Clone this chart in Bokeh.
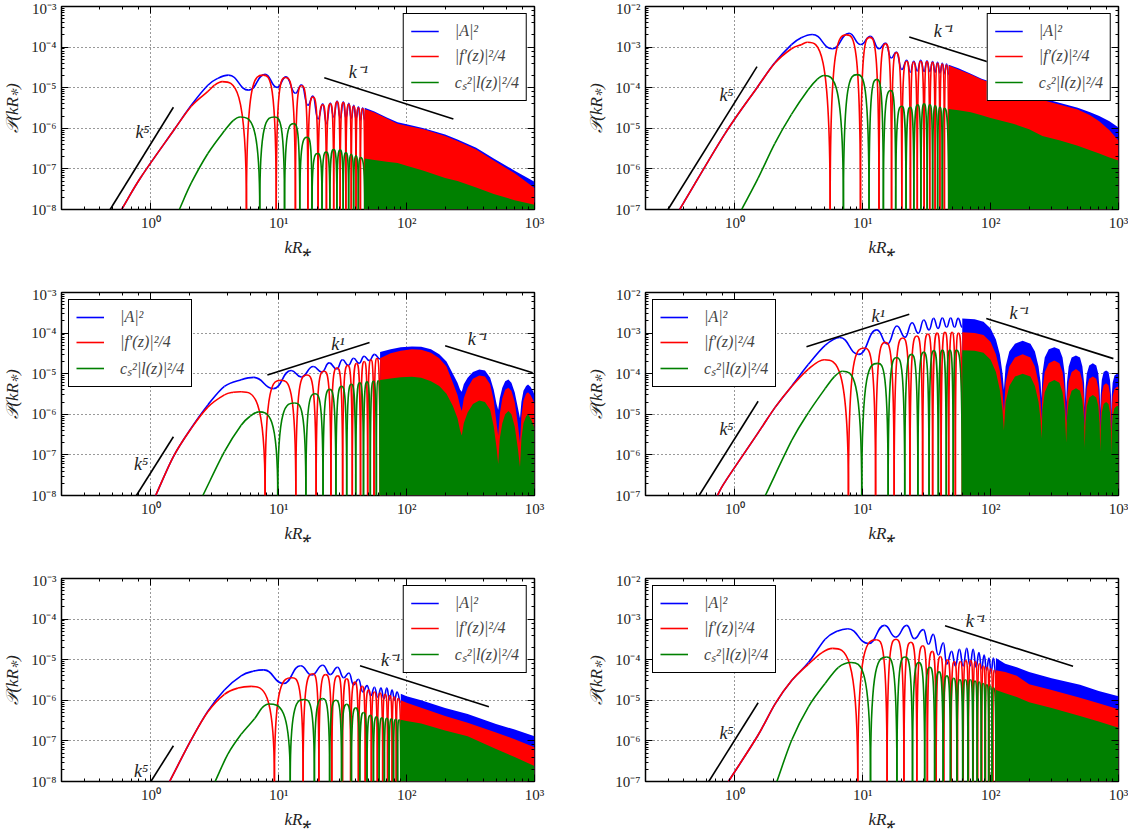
import math
from bokeh.plotting import figure
from bokeh.models import (LogAxis, CustomJSTickFormatter, Legend, LegendItem, Range1d)
from bokeh.layouts import column, row
from bokeh.embed import file_html
from bokeh.resources import INLINE
from bokeh.core.properties import value

# ---------------- data ----------------
# RISE: points of the first rising branch up to the first peak
# OSC: following extrema; a value of 0 means the curve touches zero
# BAND: upper envelope of the densely oscillating part (filled down to the axis)
# ===== panel 1 =====
P1_YR = [1e-8, 1e-3]
P1_BLUE_RISE_K = [0.59, 0.84, 1.5, 2.07, 2.79, 3.34, 4.04]
P1_BLUE_RISE_V = [1e-8, 6.4e-8, 8.7e-7, 3.7e-6, 1.15e-5, 1.7e-5, 2.04e-5]
P1_BLUE_OSC_K = [5.83, 7.82, 9.70, 11.4, 13.5, 15.1, 16.9, 18.5, 20.3, 22.1, 23.6, 25.3, 26.9, 28.6, 30.2, 32.0, 33.5, 35.3, 36.9, 38.6, 40.2, 42.0, 43.5, 45.3, 47]
P1_BLUE_OSC_V = [8.7e-6, 2.14e-5, 1.02e-5, 1.85e-5, 7.3e-6, 1.18e-5, 3.7e-6, 6.2e-6, 1.7e-6, 4.0e-6, 1.3e-6, 4.2e-6, 1.9e-6, 4.7e-6, 1.8e-6, 4.5e-6, 1.8e-6, 4.1e-6, 1.75e-6, 3.7e-6, 1.7e-6, 3.4e-6, 1.6e-6, 3.2e-6, 1.6e-6]
P1_RED_RISE_K = [0.59, 0.84, 1.5, 2.07, 2.79, 3.14, 3.61]
P1_RED_RISE_V = [1e-8, 6.4e-8, 8.7e-7, 3.5e-6, 8.1e-6, 1.15e-5, 1.41e-5]
P1_RED_OSC_K = [5.59, 7.57, 9.56, 11.3, 13.5, 15.1, 16.9, 18.5, 20.3, 22.1, 23.6, 25.3, 26.9, 28.6, 30.2, 32.0, 33.5, 35.3, 36.9, 38.6, 40.2, 42.0, 43.5, 45.3, 47]
P1_RED_OSC_V = [0, 2.04e-5, 0, 1.78e-5, 0, 1.12e-5, 0, 5.9e-6, 0, 3.8e-6, 0, 4.0e-6, 0, 4.5e-6, 0, 4.3e-6, 0, 3.9e-6, 0, 3.5e-6, 0, 3.2e-6, 0, 3.05e-6, 0]
P1_GREEN_RISE_K = [1.67, 2.07, 2.79, 3.76, 4.4, 4.99]
P1_GREEN_RISE_V = [1e-8, 4.5e-8, 2.4e-7, 8.7e-7, 1.55e-6, 1.9e-6]
P1_GREEN_OSC_K = [7.1, 9.25, 11.1, 13.1, 14.6, 16.7, 18.2, 20.2, 21.8, 23.5, 25.1, 26.9, 28.5, 30.2, 31.9, 33.5, 35.2, 36.9, 38.5, 40.2, 41.9, 43.5, 47]
P1_GREEN_OSC_V = [0, 1.9e-6, 0, 1.3e-6, 0, 6.0e-7, 0, 2.4e-7, 0, 2.6e-7, 0, 3.0e-7, 0, 2.9e-7, 0, 2.5e-7, 0, 2.3e-7, 0, 2.1e-7, 0, 1.9e-7, 0]
P1_BAND_K = [47, 56, 70, 85, 100, 136, 200, 250, 350, 480, 700, 1000]
P1_BLUE_BAND = [3.2e-6, 2.6e-6, 1.85e-6, 1.4e-6, 1.25e-6, 1.0e-6, 7.0e-7, 5.3e-7, 3.3e-7, 1.8e-7, 9e-8, 4.8e-8]
P1_RED_BAND = [3.0e-6, 2.45e-6, 1.75e-6, 1.3e-6, 1.15e-6, 9.5e-7, 6.5e-7, 4.9e-7, 3.0e-7, 1.6e-7, 7.8e-8, 3.4e-8]
P1_GREEN_BAND = [1.8e-7, 1.65e-7, 1.5e-7, 1.4e-7, 1.2e-7, 9e-8, 6e-8, 5e-8, 3.5e-8, 2.4e-8, 1.7e-8, 1.3e-8]
P1_GUIDE_K = [[0.48, 1.5], [22.7, 232]]
P1_GUIDE_V = [[1e-8, 3.3e-6], [1.75e-5, 1.7e-6]]
P1_LABEL_K = [0.86, 42]
P1_LABEL_V = [8e-7, 2.4e-5]
P1_LABEL_T = ["k⁵", "k⁻¹"]

# ===== panel 2 =====
P2_YR = [1e-7, 1e-2]
P2_BLUE_RISE_K = [0.37, 0.835, 1.49, 2.05, 2.77, 3.3, 4.02]
P2_BLUE_RISE_V = [1e-7, 7.3e-6, 1.0e-4, 4.1e-4, 1.15e-3, 1.7e-3, 2.05e-3]
P2_BLUE_OSC_K = [5.8, 7.82, 9.64, 11.5, 13.4, 15.1, 16.7, 18.3, 20.2, 22.1, 23.6, 25.0, 26.7, 28.4, 30.2, 31.8, 33.4, 35.2, 36.8, 38.5, 40.1, 41.9, 43.5, 45.2, 47]
P2_BLUE_OSC_V = [9.1e-4, 2.2e-3, 1.16e-3, 1.85e-3, 9.1e-4, 1.25e-3, 5.4e-4, 7.6e-4, 2.8e-4, 4.7e-4, 2.4e-4, 4.5e-4, 2.6e-4, 4.7e-4, 2.5e-4, 4.6e-4, 2.5e-4, 4.4e-4, 2.4e-4, 4.2e-4, 2.3e-4, 4.0e-4, 2.2e-4, 3.8e-4, 2.1e-4]
P2_RED_RISE_K = [0.37, 0.835, 1.49, 2.05, 2.77, 3.3, 3.7]
P2_RED_RISE_V = [1e-7, 7.3e-6, 1.0e-4, 4.0e-4, 9.1e-4, 1.15e-3, 1.32e-3]
P2_RED_OSC_K = [5.56, 7.5, 9.6, 11.35, 13.4, 15.1, 16.8, 18.3, 20.2, 22.1, 23.6, 25.0, 26.7, 28.4, 30.2, 31.8, 33.4, 35.2, 36.8, 38.5, 40.1, 41.9, 43.5, 45.2, 47]
P2_RED_OSC_V = [0, 2.0e-3, 0, 1.74e-3, 0, 1.2e-3, 0, 7.3e-4, 0, 4.5e-4, 0, 4.3e-4, 0, 4.5e-4, 0, 4.4e-4, 0, 4.2e-4, 0, 4.0e-4, 0, 3.8e-4, 0, 3.6e-4, 0]
P2_GREEN_RISE_K = [1.13, 1.52, 2.05, 2.77, 3.74, 4.4, 4.96]
P2_GREEN_RISE_V = [1e-7, 5.9e-7, 4.2e-6, 2.2e-5, 8.9e-5, 1.6e-4, 2.0e-4]
P2_GREEN_OSC_K = [7.06, 9.04, 11.2, 12.9, 14.5, 16.6, 18.1, 20.2, 21.8, 23.5, 25.1, 26.9, 28.5, 30.2, 31.9, 33.5, 35.2, 36.9, 38.5, 40.2, 41.9, 43.5, 47]
P2_GREEN_OSC_V = [0, 2.1e-4, 0, 1.6e-4, 0, 8.5e-5, 0, 3.5e-5, 0, 3.3e-5, 0, 3.8e-5, 0, 4.0e-5, 0, 3.8e-5, 0, 3.6e-5, 0, 3.3e-5, 0, 3.1e-5, 0]
P2_BAND_K = [47, 56, 70, 85, 100, 150, 200, 254, 350, 480, 600, 707, 850, 1000]
P2_BLUE_BAND = [3.7e-4, 3.0e-4, 2.2e-4, 1.65e-4, 1.4e-4, 1.0e-4, 7.2e-5, 5.5e-5, 4.2e-5, 3.2e-5, 2.5e-5, 2.0e-5, 1.5e-5, 1.05e-5]
P2_RED_BAND = [3.5e-4, 2.8e-4, 2.1e-4, 1.6e-4, 1.35e-4, 9.5e-5, 6.5e-5, 5.0e-5, 3.8e-5, 2.9e-5, 2.1e-5, 1.5e-5, 9e-6, 5e-6]
P2_GREEN_BAND = [3.0e-5, 2.8e-5, 2.5e-5, 2.1e-5, 1.8e-5, 1.3e-5, 9.5e-6, 6.5e-6, 5e-6, 3.7e-6, 2.9e-6, 2.4e-6, 1.9e-6, 1.6e-6]
P2_GUIDE_K = [[0.30, 1.49], [23.1, 231]]
P2_GUIDE_V = [[1e-7, 3.3e-4], [1.78e-3, 1.78e-4]]
P2_LABEL_K = [0.86, 42.7]
P2_LABEL_V = [6.6e-5, 2.5e-3]
P2_LABEL_T = ["k⁵", "k⁻¹"]

# ===== panel 3 =====
P3_YR = [1e-8, 1e-3]
P3_BLUE_RISE_K = [1.09, 1.5, 2.07, 2.79, 3.76, 5.08, 6.38]
P3_BLUE_RISE_V = [1e-8, 9.1e-8, 4.6e-7, 1.7e-6, 4.9e-6, 7.1e-6, 8.1e-6]
P3_BLUE_OSC_K = [9.08, 12.5, 15.0, 18.6, 21.7, 24.8, 28.4, 31.5, 35.0, 38.5, 42.5, 46.5, 51, 56, 62]
P3_BLUE_OSC_V = [4.3e-6, 1.2e-5, 8.3e-6, 1.5e-5, 1.1e-5, 1.85e-5, 1.3e-5, 2.2e-5, 1.6e-5, 2.4e-5, 1.8e-5, 2.7e-5, 2.1e-5, 3.0e-5, 2.3e-5]
P3_RED_RISE_K = [1.09, 1.5, 2.07, 2.79, 3.76, 4.4, 5.08]
P3_RED_RISE_V = [1e-8, 9.1e-8, 4.5e-7, 1.5e-6, 3.0e-6, 3.5e-6, 3.6e-6]
P3_RED_OSC_K = [7.82, 10.4, 13.6, 16.6, 19.6, 22.6, 25.6, 28.6, 31.6, 34.6, 37.6, 40.6, 43.6, 46.6, 49.6, 52.6, 55.6, 58.6, 62]
P3_RED_OSC_V = [0, 6.9e-6, 0, 9.3e-6, 0, 1.15e-5, 0, 1.4e-5, 0, 1.6e-5, 0, 1.8e-5, 0, 2.0e-5, 0, 2.2e-5, 0, 2.4e-5, 0]
P3_GREEN_RISE_K = [2.55, 3.76, 5.08, 6.0, 6.94]
P3_GREEN_RISE_V = [1e-8, 1.2e-7, 5.4e-7, 9e-7, 1.15e-6]
P3_GREEN_OSC_K = [9.82, 13.3, 16.3, 19.2, 22.2, 25.0, 28, 31, 34, 37, 40, 43, 46, 49, 52, 55, 58, 60, 62]
P3_GREEN_OSC_V = [0, 1.9e-6, 0, 3.2e-6, 0, 4.1e-6, 0, 4.9e-6, 0, 5.5e-6, 0, 6.0e-6, 0, 6.3e-6, 0, 6.5e-6, 0, 6.7e-6, 0]
P3_BAND_K = [62, 75, 90, 110, 130, 155, 180, 205, 230, 250, 262, 270,
             280, 300, 330, 370, 410, 450, 480, 505, 520,
             535, 560, 590, 625, 660, 700, 740, 770,
             790, 820, 860, 890, 930, 970, 1000]
P3_BLUE_BAND = [3.4e-5, 4.0e-5, 4.5e-5, 4.7e-5, 4.6e-5, 4.0e-5, 3.0e-5, 2.0e-5, 1.0e-5, 6e-6, 4e-6, 3.6e-6,
                5.5e-6, 8e-6, 1.1e-5, 1.26e-5, 1.2e-5, 8e-6, 4e-6, 1.8e-6, 1.3e-6,
                2.5e-6, 4.5e-6, 6.5e-6, 7.2e-6, 6e-6, 3.5e-6, 1.5e-6, 8e-7,
                2e-6, 3.8e-6, 5e-6, 5.4e-6, 4.8e-6, 3.8e-6, 3e-6]
P3_RED_BAND = [2.4e-5, 3.2e-5, 3.7e-5, 4.0e-5, 3.9e-5, 3.3e-5, 2.4e-5, 1.5e-5, 6e-6, 3e-6, 1.6e-6, 1.2e-6,
               2.5e-6, 4.5e-6, 7.5e-6, 9e-6, 8.5e-6, 5.5e-6, 2.2e-6, 6e-7, 3e-7,
               1e-6, 2.5e-6, 4e-6, 4.5e-6, 3.8e-6, 2e-6, 6e-7, 2e-7,
               9e-7, 2.2e-6, 3.2e-6, 3.5e-6, 3.0e-6, 2.3e-6, 1.8e-6]
P3_GREEN_BAND = [7e-6, 7.6e-6, 8.2e-6, 8.4e-6, 8e-6, 6.5e-6, 5e-6, 3.2e-6, 1.6e-6, 8e-7, 4e-7, 3e-7,
                 6e-7, 1.1e-6, 1.8e-6, 2.2e-6, 2.0e-6, 1.3e-6, 5e-7, 1.5e-7, 6e-8,
                 2.5e-7, 6e-7, 1e-6, 1.2e-6, 1e-6, 5e-7, 1.5e-7, 5e-8,
                 2.5e-7, 6e-7, 9e-7, 1e-6, 8e-7, 6e-7, 4.5e-7]
P3_GUIDE_K = [[0.77, 1.5], [8.15, 51.3], [200, 968]]
P3_GUIDE_V = [[1e-8, 2.8e-7], [9.3e-6, 5.9e-5], [4.9e-5, 1.05e-5]]
P3_LABEL_K = [0.84, 29, 358]
P3_LABEL_V = [5.9e-8, 5.4e-5, 7.1e-5]
P3_LABEL_T = ["k⁵", "k¹", "k⁻¹"]

# ===== panel 4 =====
P4_YR = [1e-7, 1e-2]
P4_BLUE_RISE_K = [0.73, 0.84, 1.5, 2.07, 2.79, 3.76, 5.08, 6.6]
P4_BLUE_RISE_V = [1e-7, 2.2e-7, 3.3e-6, 1.5e-5, 5.0e-5, 1.7e-4, 5e-4, 7.8e-4]
P4_BLUE_OSC_K = [9.3, 12.9, 15.6, 18.5, 21.4, 24.3, 27.2, 30, 33, 35.8, 38.8, 41.9, 45.3, 48.7, 52.2, 55.7, 60]
P4_BLUE_OSC_V = [3.0e-4, 1.2e-3, 5.4e-4, 1.5e-3, 7.9e-4, 1.8e-3, 1.0e-3, 2.1e-3, 1.2e-3, 2.3e-3, 1.3e-3, 2.35e-3, 1.4e-3, 2.35e-3, 1.4e-3, 2.3e-3, 1.4e-3]
P4_RED_RISE_K = [0.73, 0.84, 1.5, 2.07, 2.79, 3.76, 4.99]
P4_RED_RISE_V = [1e-7, 2.2e-7, 3.3e-6, 1.5e-5, 4.9e-5, 1.3e-4, 2.2e-4]
P4_RED_OSC_K = [7.73, 10.3, 12.6, 15.0, 17.6, 20.6, 23.4, 26.5, 29.4, 32.3, 35.2, 38.2, 41, 44, 47, 50, 53, 56, 60]
P4_RED_OSC_V = [0, 4.3e-4, 0, 5.9e-4, 0, 7.6e-4, 0, 8.5e-4, 0, 9.5e-4, 0, 1.0e-3, 0, 1.05e-3, 0, 1.05e-3, 0, 1.0e-3, 0]
P4_GREEN_RISE_K = [1.73, 2.79, 3.76, 5.08, 6.0, 6.94]
P4_GREEN_RISE_V = [1e-7, 2.3e-6, 1.1e-5, 4.3e-5, 8.5e-5, 1.15e-4]
P4_GREEN_OSC_K = [9.82, 13.1, 15.8, 18.4, 21.3, 24, 27, 30, 33, 36, 39, 42, 45, 48, 51, 54, 60]
P4_GREEN_OSC_V = [0, 1.8e-4, 0, 2.5e-4, 0, 3.0e-4, 0, 3.4e-4, 0, 3.7e-4, 0, 3.8e-4, 0, 3.8e-4, 0, 3.8e-4, 0]
P4_BAND_K = [60, 75, 88, 100, 110, 118, 124, 127,
             131, 140, 155, 178, 205, 222, 237, 246, 250,
             254, 265, 285, 315, 345, 365, 380, 390,
             395, 408, 430, 465, 500, 522, 538, 545,
             551, 565, 590, 630, 670, 695, 712, 720,
             726, 740, 765, 800, 835, 858, 873, 880,
             886, 900, 930, 970, 1000]
P4_BLUE_BAND = [2.3e-3, 2.2e-3, 1.9e-3, 1.3e-3, 7e-4, 3e-4, 1e-4, 4e-5,
                1.5e-4, 3.5e-4, 5.5e-4, 6.5e-4, 5.5e-4, 3.5e-4, 1.5e-4, 6e-5, 2.5e-5,
                1e-4, 2.5e-4, 4e-4, 4.5e-4, 4e-4, 2.5e-4, 1e-4, 2e-5,
                6e-5, 1.5e-4, 2.5e-4, 2.8e-4, 2.5e-4, 1.5e-4, 6e-5, 1.5e-5,
                4e-5, 1e-4, 1.6e-4, 1.8e-4, 1.6e-4, 1e-4, 4e-5, 1.2e-5,
                3e-5, 7e-5, 1.1e-4, 1.2e-4, 1.1e-4, 7e-5, 3e-5, 1e-5,
                3e-5, 6e-5, 9e-5, 1.0e-4, 1.0e-4]
P4_RED_BAND = [1.05e-3, 1.0e-3, 9e-4, 6e-4, 3e-4, 1.2e-4, 3.5e-5, 1.2e-5,
               6e-5, 1.5e-4, 2.5e-4, 3e-4, 2.5e-4, 1.5e-4, 6e-5, 2e-5, 7e-6,
               4e-5, 1.1e-4, 1.8e-4, 2.1e-4, 1.8e-4, 1.1e-4, 4e-5, 6e-6,
               2.5e-5, 6.5e-5, 1.1e-4, 1.3e-4, 1.1e-4, 6.5e-5, 2.5e-5, 5e-6,
               1.6e-5, 4.5e-5, 7.5e-5, 8.5e-5, 7.5e-5, 4.5e-5, 1.6e-5, 4e-6,
               1.2e-5, 3.2e-5, 5.2e-5, 5.8e-5, 5.2e-5, 3.2e-5, 1.2e-5, 3.5e-6,
               1.2e-5, 2.8e-5, 4.2e-5, 4.8e-5, 4.8e-5]
P4_GREEN_BAND = [3.8e-4, 3.7e-4, 3.3e-4, 2.2e-4, 1.1e-4, 4e-5, 1.2e-5, 4e-6,
                 2e-5, 5e-5, 8.5e-5, 1e-4, 8.5e-5, 5e-5, 2e-5, 7e-6, 2.5e-6,
                 1.3e-5, 3.5e-5, 6e-5, 7e-5, 6e-5, 3.5e-5, 1.3e-5, 2e-6,
                 8e-6, 2.2e-5, 3.8e-5, 4.4e-5, 3.8e-5, 2.2e-5, 8e-6, 1.5e-6,
                 6e-6, 1.6e-5, 2.6e-5, 3e-5, 2.6e-5, 1.6e-5, 6e-6, 1.2e-6,
                 4e-6, 1.1e-5, 1.8e-5, 2.0e-5, 1.8e-5, 1.1e-5, 4e-6, 1e-6,
                 4e-6, 9e-6, 1.4e-5, 1.6e-5, 1.6e-5]
P4_GUIDE_K = [[0.525, 1.52], [3.63, 23.1], [92.5, 912]]
P4_GUIDE_V = [[1e-7, 2.1e-5], [4.6e-4, 2.9e-3], [2.3e-3, 2.35e-4]]
P4_LABEL_K = [0.86, 13.2, 167]
P4_LABEL_V = [4.3e-6, 2.6e-3, 3.1e-3]
P4_LABEL_T = ["k⁵", "k¹", "k⁻¹"]

# ===== panel 5 =====
P5_YR = [1e-8, 1e-3]
P5_BLUE_RISE_K = [1.4, 2.07, 2.79, 3.76, 5.08, 6.3, 7.64]
P5_BLUE_RISE_V = [1e-8, 1.07e-7, 5.4e-7, 1.8e-6, 4.0e-6, 5.2e-6, 5.6e-6]
P5_BLUE_OSC_K = [10.9, 14.8, 18.1, 22.1, 25.3, 28.8, 32.2, 35.4, 38.5, 42, 45.5, 49, 52.5, 56, 59.5, 63, 66.5, 70, 73.5, 77, 80.5, 84, 90]
P5_BLUE_OSC_V = [2.6e-6, 7.1e-6, 4.2e-6, 7.3e-6, 4.3e-6, 6.5e-6, 3.6e-6, 4.7e-6, 2.4e-6, 3.3e-6, 1.6e-6, 2.3e-6, 1.3e-6, 2.1e-6, 1.2e-6, 2.0e-6, 1.1e-6, 2.0e-6, 1.05e-6, 1.8e-6, 1e-6, 1.6e-6, 9e-7]
P5_RED_RISE_K = [1.4, 2.07, 2.79, 3.76, 4.8, 6.08]
P5_RED_RISE_V = [1e-8, 1.07e-7, 5.2e-7, 1.4e-6, 2.0e-6, 2.2e-6]
P5_RED_OSC_K = [9.25, 12.7, 15.5, 18.5, 20.6, 23.3, 26, 29, 31.5, 34, 36.5, 39.5, 42, 45, 47.5, 50.5, 53, 56, 59, 62, 65, 68, 71, 74, 77, 80, 83, 86, 90]
P5_RED_OSC_V = [0, 3.6e-6, 0, 4.5e-6, 0, 4.3e-6, 0, 4.0e-6, 0, 3.4e-6, 0, 2.8e-6, 0, 2.2e-6, 0, 1.8e-6, 0, 1.6e-6, 0, 1.5e-6, 0, 1.4e-6, 0, 1.3e-6, 0, 1.2e-6, 0, 1.1e-6, 0]
P5_GREEN_RISE_K = [3.18, 4.0, 5.08, 6.46, 7.4, 8.35]
P5_GREEN_RISE_V = [1e-8, 4.7e-8, 1.45e-7, 3.5e-7, 6.5e-7, 8.1e-7]
P5_GREEN_OSC_K = [12.3, 15.9, 19, 22, 25, 28, 31, 34, 37, 40, 43, 46, 49, 52, 55, 58, 61, 64, 67, 70, 73, 76, 79, 82, 85, 87.5, 90]
P5_GREEN_OSC_V = [0, 1.05e-6, 0, 1.1e-6, 0, 1.0e-6, 0, 8e-7, 0, 6.5e-7, 0, 5e-7, 0, 4.3e-7, 0, 3.9e-7, 0, 3.7e-7, 0, 3.6e-7, 0, 3.5e-7, 0, 3.4e-7, 0, 3.3e-7, 0]
P5_BAND_K = [90, 100, 130, 200, 300, 500, 700, 1000]
P5_BLUE_BAND = [1.45e-6, 1.25e-6, 1.0e-6, 6.5e-7, 4.6e-7, 2.6e-7, 1.9e-7, 1.3e-7]
P5_RED_BAND = [1.0e-6, 8.7e-7, 6.6e-7, 4.1e-7, 2.8e-7, 1.6e-7, 1.1e-7, 7e-8]
P5_GREEN_BAND = [3.3e-7, 3.1e-7, 2.7e-7, 1.8e-7, 1.3e-7, 6.3e-8, 4e-8, 2.4e-8]
P5_GUIDE_K = [[1.0, 1.5], [43.2, 440]]
P5_GUIDE_V = [[1e-8, 7.6e-8], [7.1e-6, 6.9e-7]]
P5_LABEL_K = [0.84, 75]
P5_LABEL_V = [1.8e-8, 9.8e-6]
P5_LABEL_T = ["k⁵", "k⁻¹"]

# ===== panel 6 =====
P6_YR = [1e-7, 1e-2]
P6_BLUE_RISE_K = [0.89, 1.5, 2.07, 2.79, 3.76, 5.08, 6.3, 7.64]
P6_BLUE_RISE_V = [1e-7, 1.3e-6, 8.3e-6, 3.1e-5, 8.5e-5, 3.2e-4, 5.0e-4, 5.8e-4]
P6_BLUE_OSC_K = [11.1, 14.8, 18.1, 22.1, 25.3, 29.8, 32.6, 35.6, 39, 42.7, 45.3, 49.6, 53, 57, 61, 65, 69, 73, 77, 81, 85, 89, 93, 97, 101, 105, 110]
P6_BLUE_OSC_V = [2.5e-4, 7.0e-4, 3.6e-4, 7.0e-4, 3.3e-4, 5.5e-4, 2.4e-4, 4.2e-4, 1.3e-4, 2.6e-4, 7.8e-5, 1.6e-4, 7e-5, 1.8e-4, 7e-5, 1.9e-4, 7e-5, 1.8e-4, 6.5e-5, 1.5e-4, 6e-5, 1.3e-4, 5.5e-5, 1.1e-4, 5e-5, 1.1e-4, 4.5e-5]
P6_RED_RISE_K = [0.89, 1.5, 2.07, 2.79, 3.76, 4.8, 5.8]
P6_RED_RISE_V = [1e-7, 1.3e-6, 8.3e-6, 3.1e-5, 7.8e-5, 1.5e-4, 1.9e-4]
P6_RED_OSC_K = [9.14, 12.8, 15.5, 18.2, 21, 23.8, 26.5, 29.5, 32, 35, 37.5, 40.5, 43, 46, 49, 52, 55, 58, 61, 64, 67, 70, 73, 76, 79, 82, 85, 88, 91, 94, 97, 100, 104, 107, 110]
P6_RED_OSC_V = [0, 3.1e-4, 0, 3.2e-4, 0, 2.7e-4, 0, 2.2e-4, 0, 1.6e-4, 0, 1.2e-4, 0, 1.0e-4, 0, 9e-5, 0, 9e-5, 0, 9.5e-5, 0, 9.5e-5, 0, 9e-5, 0, 8e-5, 0, 7e-5, 0, 6.5e-5, 0, 6e-5, 0, 5.5e-5, 0]
P6_GREEN_RISE_K = [2.13, 2.79, 3.76, 5.08, 6.46, 8.1]
P6_GREEN_RISE_V = [1e-7, 1.07e-6, 6.9e-6, 2.6e-5, 6.5e-5, 8.5e-5]
P6_GREEN_OSC_K = [11.5, 15.4, 18.5, 21.4, 24.5, 27.5, 30.5, 33.5, 36.5, 39.5, 42.5, 45.5, 48.5, 51.5, 54.5, 57.5, 60.5, 63.5, 66.5, 69.5, 72.5, 75.5, 78.5, 81.5, 84.5, 87.5, 90.5, 93.5, 96.5, 99.5, 102.5, 105.5, 110]
P6_GREEN_OSC_V = [0, 1.17e-4, 0, 1.17e-4, 0, 8.5e-5, 0, 6.5e-5, 0, 5e-5, 0, 4e-5, 0, 3.5e-5, 0, 3.2e-5, 0, 3.2e-5, 0, 3.2e-5, 0, 3e-5, 0, 2.8e-5, 0, 2.6e-5, 0, 2.4e-5, 0, 2.2e-5, 0, 2e-5, 0]
P6_BAND_K = [110, 130, 160, 200, 300, 500, 700, 1000]
P6_BLUE_BAND = [1.1e-4, 8e-5, 6.5e-5, 5e-5, 3.5e-5, 2.4e-5, 1.7e-5, 1.25e-5]
P6_RED_BAND = [5.5e-5, 5e-5, 4e-5, 2.5e-5, 1.8e-5, 1.15e-5, 8.5e-6, 6e-6]
P6_GREEN_BAND = [1.8e-5, 1.5e-5, 1.2e-5, 9e-6, 6.5e-6, 4.1e-6, 3e-6, 2.1e-6]
P6_GUIDE_K = [[0.625, 1.52], [44, 441]]
P6_GUIDE_V = [[1e-7, 8.7e-6], [6.9e-4, 6.9e-5]]
P6_LABEL_K = [0.86, 76]
P6_LABEL_V = [1.6e-6, 9.1e-4]
P6_LABEL_T = ["k⁵", "k⁻¹"]

SERIES_LABELS = ["|A|²", "|f′(z)|²/4", "cₛ²|l(z)|²/4"]
COLORS = ["#0000ff", "#ff0000", "#008000"]
X_RANGE = [0.2, 1000]

# ---------------- drawing ----------------
FONT = "Liberation Serif"
SUP_JS = """
const s = {"-": "\u207b", "0": "\u2070", "1": "\u00b9", "2": "\u00b2", "3": "\u00b3",
           "4": "\u2074", "5": "\u2075", "6": "\u2076", "7": "\u2077", "8": "\u2078", "9": "\u2079"};
const e = Math.round(Math.log10(tick));
let out = "";
for (const c of String(e)) { out += s[c]; }
return "10" + out;
"""


def new_seg():
    return dict(x0=[], y0=[], x1=[], y1=[], cx0=[], cy0=[], cx1=[], cy1=[])


def add_seg(d, a, c0, c1, b):
    d["x0"].append(a[0]); d["y0"].append(a[1])
    d["cx0"].append(c0[0]); d["cy0"].append(c0[1])
    d["cx1"].append(c1[0]); d["cy1"].append(c1[1])
    d["x1"].append(b[0]); d["y1"].append(b[1])


def rise_segments(ks, vs):
    """smooth (Catmull-Rom in log-log space) curve through the read rise points"""
    X = [math.log10(k) for k in ks]
    Y = [math.log10(v) for v in vs]
    n = len(X)
    m = []
    for i in range(n):
        if i == 0:
            m.append((X[1] - X[0], Y[1] - Y[0]))
        elif i == n - 1:
            m.append((X[-1] - X[-2], 0.0))
        else:
            m.append(((X[i + 1] - X[i - 1]) / 2, (Y[i + 1] - Y[i - 1]) / 2))
    d = new_seg()
    for i in range(n - 1):
        c0 = (X[i] + m[i][0] / 3, Y[i] + m[i][1] / 3)
        c1 = (X[i + 1] - m[i + 1][0] / 3, Y[i + 1] - m[i + 1][1] / 3)
        add_seg(d, (ks[i], vs[i]), (10 ** c0[0], 10 ** c0[1]), (10 ** c1[0], 10 ** c1[1]), (ks[i + 1], vs[i + 1]))
    return d


def osc_segments(rise_k, rise_v, osc_k, osc_v, floor):
    ks = [rise_k[-1]] + list(osc_k)
    vs = [rise_v[-1]] + list(osc_v)
    d = new_seg()
    for i in range(len(ks) - 1):
        ka, kb, va, vb = ks[i], ks[i + 1], vs[i], vs[i + 1]
        ya = va if va > 0 else floor
        yb = vb if vb > 0 else floor
        gm = math.sqrt(ka * kb)
        if va > 0 and vb > 0:
            c0, c1 = (gm, ya), (gm, yb)
        elif va > 0:
            c0, c1 = (gm, ya), (kb, ya)
        elif vb > 0:
            c0, c1 = (ka, yb), (gm, yb)
        else:
            c0, c1 = (ka, ya), (kb, yb)
        add_seg(d, (ka, ya), c0, c1, (kb, yb))
    return d


def make_panel(n, legend_loc, left_col, bottom_row):
    g = globals()
    yr = g[f"P{n}_YR"]
    floor = yr[0]
    p = figure(x_axis_type="log", y_axis_type="log",
               x_range=Range1d(*X_RANGE), y_range=Range1d(*yr),
               frame_width=473, frame_height=203,
               min_border_left=60 if left_col else 91,
               min_border_right=20 if left_col else 10,
               min_border_top=6, min_border_bottom=44 if bottom_row else 77,
               toolbar_location=None, output_backend="svg",
               background_fill_color="white", border_fill_color="white")
    p.outline_line_color = "black"
    p.outline_line_width = 1.5
    band_k = g[f"P{n}_BAND_K"]
    renderers = []
    for name, color in zip(["BLUE", "RED", "GREEN"], COLORS):
        band = g[f"P{n}_{name}_BAND"]
        assert len(band) == len(band_k)
        p.varea(x=band_k, y1=[floor] * len(band_k), y2=band, fill_color=color)
        rk, rv = g[f"P{n}_{name}_RISE_K"], g[f"P{n}_{name}_RISE_V"]
        r = p.bezier(line_color=color, line_width=1.6, **rise_segments(rk, rv))
        renderers.append(r)
        seg = osc_segments(rk, rv, g[f"P{n}_{name}_OSC_K"], g[f"P{n}_{name}_OSC_V"], floor)
        p.bezier(line_color=color, line_width=1.6, **seg)
    for gk, gv in zip(g[f"P{n}_GUIDE_K"], g[f"P{n}_GUIDE_V"]):
        p.line(gk, gv, line_color="black", line_width=1.6)
    p.text(x=g[f"P{n}_LABEL_K"], y=g[f"P{n}_LABEL_V"], text=g[f"P{n}_LABEL_T"],
           text_align="center", text_baseline="middle", text_font=value(FONT),
           text_font_style="italic", text_font_size="18px", text_color="#222222")

    for ax in (p.xaxis[0], p.yaxis[0]):
        ax.formatter = CustomJSTickFormatter(code=SUP_JS)
        ax.major_label_text_font = FONT
        ax.major_label_text_font_size = "15px"
        ax.major_label_text_color = "#222222"
        ax.axis_label_text_font = FONT
        ax.axis_label_text_font_size = "17px"
        ax.axis_label_text_font_style = "italic"
        ax.axis_label_text_color = "#222222"
        ax.major_tick_in = 7
        ax.major_tick_out = 0
        ax.minor_tick_in = 3
        ax.minor_tick_out = 0
        ax.axis_line_color = None
        ax.major_label_standoff = 5
    p.xaxis[0].axis_label = "kR⁎"
    p.xaxis[0].axis_label_standoff = 4
    p.yaxis[0].axis_label = "𝒫(kR⁎)"
    p.yaxis[0].axis_label_standoff = 6
    for side in ("above", "right"):
        ax = LogAxis(formatter=CustomJSTickFormatter(code="return '';"),
                     major_label_text_font_size="0px", major_label_standoff=0,
                     major_tick_in=7, major_tick_out=0, minor_tick_in=3, minor_tick_out=0,
                     axis_line_color=None)
        p.add_layout(ax, side)
    for grid in (p.xgrid[0], p.ygrid[0]):
        grid.grid_line_color = "black"
        grid.grid_line_dash = "1 3"
        grid.grid_line_width = 1
        grid.grid_line_alpha = 0.8
        grid.minor_grid_line_color = None

    legend = Legend(items=[LegendItem(label=lab, renderers=[r]) for lab, r in zip(SERIES_LABELS, renderers)],
                    location=legend_loc, border_line_color="black", border_line_width=1.2,
                    border_line_alpha=1, background_fill_alpha=1,
                    label_text_font=FONT, label_text_font_style="italic", label_text_font_size="16px",
                    glyph_width=28, glyph_height=20, label_height=20, spacing=5, padding=7,
                    margin=7, label_standoff=16)
    p.add_layout(legend)
    return p


p1 = make_panel(1, "top_right", True, False)
p2 = make_panel(2, "top_right", False, False)
p3 = make_panel(3, "top_left", True, False)
p4 = make_panel(4, "top_left", False, False)
p5 = make_panel(5, "top_right", True, True)
p6 = make_panel(6, "top_left", False, True)

layout = column(row(p1, p2), row(p3, p4), row(p5, p6))
open("out.html", "w", encoding="utf-8").write(file_html(layout, INLINE))
